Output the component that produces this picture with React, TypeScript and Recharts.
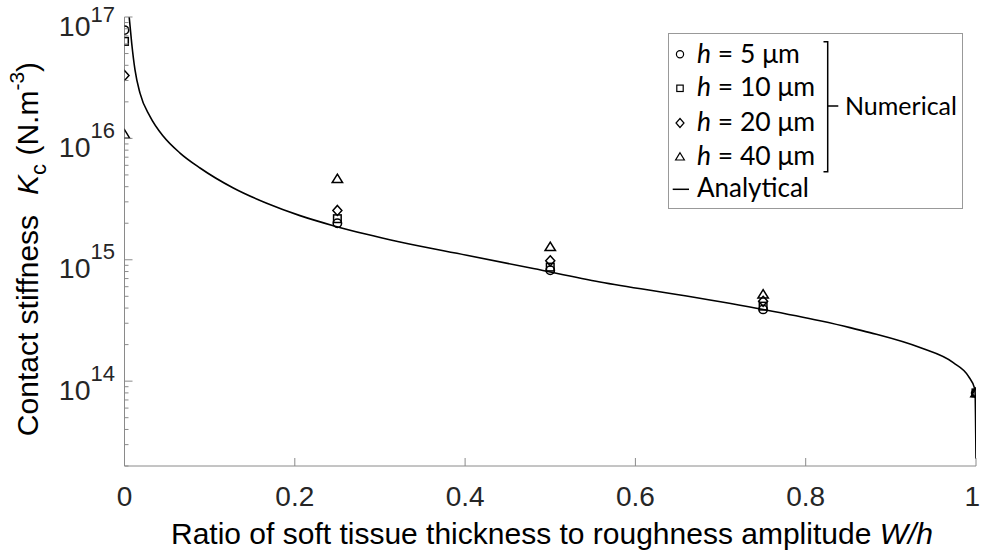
import React from 'react';
import { ComposedChart, Line, Scatter, XAxis, YAxis } from 'recharts';

// ---- data ----
const xTicks = [0, 0.2, 0.4, 0.6, 0.8, 1];
const xTickLabels = ['0', '0.2', '0.4', '0.6', '0.8', '1'];
const yDomain = [2e13, 1e17];

const curveX = [0.0055, 0.00846, 0.01233, 0.0182, 0.0299, 0.0456, 0.0652, 0.0887, 0.1278, 0.167, 0.2061, 0.2452, 0.2844, 0.3235, 0.4019, 0.4801, 0.5584, 0.6563, 0.7502, 0.8168, 0.852, 0.8755, 0.9342, 0.9733, 0.991, 0.9988, 1.0];
const curveK = [1.0e17, 6.08e16, 3.66e16, 2.36e16, 1.52e16, 1.04e16, 7.57e15, 5.7e15, 3.9e15, 2.92e15, 2.31e15, 1.91e15, 1.62e15, 1.4e15, 1.09e15, 8.47e14, 6.57e14, 5.08e14, 3.89e14, 3.14e14, 2.76e14, 2.51e14, 1.89e14, 1.42e14, 1.1e14, 8.55e13, 2.3e13];

const ratioX = [0, 0.25, 0.5, 0.75, 1];
const kH5 = [7.8e16, 2.0e15, 8.2e14, 3.9e14, 8.0e13];
const kH10 = [6.3e16, 2.18e15, 8.7e14, 4.15e14, 8.0e13];
const kH20 = [3.3e16, 2.55e15, 9.8e14, 4.55e14, 8.0e13];
const kH40 = [1.08e16, 4.65e15, 1.28e15, 5.2e14, 8.0e13];

const curveData = curveX.map((x, i) => ({ x, k: curveK[i] }));
const mk = (arr: number[]) => ratioX.map((x, i) => ({ x, k: arr[i] }));
const d5 = mk(kH5);
const d10 = mk(kH10);
const d20 = mk(kH20);
const d40 = mk(kH40);

// tick positions (majors + minors per decade)
const yTicks: number[] = [];
for (let d = 13; d <= 17; d++) {
  for (let m = 1; m <= 9; m++) {
    const v = m * Math.pow(10, d);
    if (v >= yDomain[0] * 0.999 && v <= yDomain[1] * 1.001) yTicks.push(v);
  }
}

const AXIS = '#8a8a8a';
const TEXT = '#262626';
const FONT = '"Liberation Sans", Arial, Helvetica, sans-serif';
const LFONT = 'Lato, "Noto Sans", sans-serif';

const isMajor = (v: number) => {
  const lg = Math.log10(v);
  return Math.abs(lg - Math.round(lg)) < 1e-6;
};

const YTickLeft = (props: any) => {
  const { x, y, payload } = props;
  const v = payload.value;
  const major = isMajor(v);
  const isTop = Math.abs(v - yDomain[1]) < 1;
  return (
    <g>
      <line x1={x} x2={x + (major ? 8 : 4)} y1={y} y2={y} stroke={AXIS} strokeWidth={1} />
      {major && (
        <text x={x - 9.5} y={y + 18.5} textAnchor="end" fontSize={28.5} fill={TEXT} fontFamily={FONT}>
          10<tspan fontSize={22} dy={isTop ? -13.5 : -19}>{Math.round(Math.log10(v))}</tspan>
        </text>
      )}
    </g>
  );
};

const YTickRight = (props: any) => {
  const { x, y, payload } = props;
  const major = isMajor(payload.value);
  return <line x1={x} x2={x - (major ? 8 : 4)} y1={y} y2={y} stroke={AXIS} strokeWidth={1} />;
};

const XTickBottom = (props: any) => {
  const { x, y, payload } = props;
  const i = xTicks.indexOf(payload.value);
  const last = i === xTicks.length - 1;
  return (
    <g>
      <line x1={x} x2={x} y1={y} y2={y - 8} stroke={AXIS} strokeWidth={1} />
      <text x={last ? x + 4 : x} y={y + 40} textAnchor={last ? 'end' : 'middle'} fontSize={28} fill={TEXT} fontFamily={FONT}>
        {i >= 0 ? xTickLabels[i] : String(payload.value)}
      </text>
    </g>
  );
};

const XTickTop = (props: any) => {
  const { x, y } = props;
  return <line x1={x} x2={x} y1={y} y2={y + 8} stroke={AXIS} strokeWidth={1} />;
};

const SW = 1.5;
const CircleShape = (p: any) => <circle cx={p.cx} cy={p.cy} r={4.2} fill="none" stroke="#000" strokeWidth={SW} />;
const SquareShape = (p: any) => <rect x={p.cx - 3.8} y={p.cy - 3.8} width={7.6} height={7.6} fill="none" stroke="#000" strokeWidth={SW} />;
const DiamondShape = (p: any) => (
  <path d={`M${p.cx},${p.cy - 5} L${p.cx + 4.5},${p.cy} L${p.cx},${p.cy + 5} L${p.cx - 4.5},${p.cy} Z`} fill="none" stroke="#000" strokeWidth={SW} />
);
const TriangleShape = (p: any) => (
  <path d={`M${p.cx},${p.cy - 4.6} L${p.cx + 5.2},${p.cy + 3.8} L${p.cx - 5.2},${p.cy + 3.8} Z`} fill="none" stroke="#000" strokeWidth={SW} />
);

const legendRows = ['5', '10', '20', '40'];
const legendBaselines = [62.7, 96.2, 130.5, 164.7];
const markerYs = [54.3, 88.3, 123.0, 156.7];

const Legend = () => (
  <svg width={981} height={559} style={{ position: 'absolute', left: 0, top: 0, pointerEvents: 'none' }}>
    <rect x={668.5} y={33.5} width={294} height={175} fill="#fff" stroke="#999" strokeWidth={1} />
    <circle cx={680} cy={markerYs[0]} r={3.6} fill="none" stroke="#000" strokeWidth={1.2} />
    <rect x={676.8} y={markerYs[1] - 3.2} width={6.4} height={6.4} fill="none" stroke="#000" strokeWidth={1.2} />
    <path d={`M680,${markerYs[2] - 4.5} L684,${markerYs[2]} L680,${markerYs[2] + 4.5} L676,${markerYs[2]} Z`} fill="none" stroke="#000" strokeWidth={1.2} />
    <path d={`M680,${markerYs[3] - 4} L684.4,${markerYs[3] + 3.3} L675.6,${markerYs[3] + 3.3} Z`} fill="none" stroke="#000" strokeWidth={1.2} />
    {legendRows.map((h, i) => (
      <text key={h} x={697} y={legendBaselines[i]} fontSize={26.5} fill="#000" fontFamily={LFONT}>
        <tspan fontStyle="italic">h</tspan> = {h} μm
      </text>
    ))}
    <line x1={672.7} x2={689} y1={189.3} y2={189.3} stroke="#000" strokeWidth={1.5} />
    <text x={697} y={197} fontSize={26} fill="#000" fontFamily={LFONT}>Analytical</text>
    <path d="M823.5,41.7 H827.7 V171.7 H823.5 M827.7,106 H838.3" fill="none" stroke="#000" strokeWidth={1.5} />
    <text x={845} y={115} fontSize={25} fill="#000" fontFamily={LFONT}>Numerical</text>
  </svg>
);

export default function App() {
  return (
    <div style={{ position: 'absolute', left: 0, top: 0, width: 981, height: 559, background: '#fff' }}>
      <ComposedChart width={981} height={559} margin={{ top: 17, right: 5, bottom: 0, left: 0 }}>
        <XAxis
          xAxisId="b"
          type="number"
          dataKey="x"
          domain={[0, 1]}
          ticks={xTicks}
          interval={0}
          height={93}
          tickSize={0}
          tickMargin={0}
          tickLine={false}
          axisLine={{ stroke: AXIS }}
          tick={<XTickBottom />}
          allowDataOverflow
        />
        <XAxis
          xAxisId="t"
          orientation="top"
          type="number"
          dataKey="x"
          domain={[0, 1]}
          ticks={xTicks}
          interval={0}
          height={0}
          tickSize={0}
          tickMargin={0}
          tickLine={false}
          axisLine={{ stroke: AXIS }}
          tick={<XTickTop />}
          allowDataOverflow
        />
        <YAxis
          yAxisId="l"
          type="number"
          dataKey="k"
          scale="log"
          domain={yDomain}
          ticks={yTicks}
          interval={0}
          width={124.5}
          tickSize={0}
          tickMargin={0}
          tickLine={false}
          axisLine={{ stroke: AXIS }}
          tick={<YTickLeft />}
          allowDataOverflow
        />
        <YAxis
          yAxisId="r"
          orientation="right"
          type="number"
          dataKey="k"
          scale="log"
          domain={yDomain}
          ticks={yTicks}
          interval={0}
          width={0}
          tickSize={0}
          tickMargin={0}
          tickLine={false}
          axisLine={{ stroke: AXIS }}
          tick={<YTickRight />}
          allowDataOverflow
        />
        <Line
          data={curveData}
          xAxisId="b"
          yAxisId="l"
          dataKey="k"
          type="monotone"
          stroke="#000"
          strokeWidth={1.6}
          dot={false}
          isAnimationActive={false}
        />
        <Scatter data={d5} xAxisId="b" yAxisId="l" dataKey="k" shape={CircleShape} isAnimationActive={false} />
        <Scatter data={d10} xAxisId="b" yAxisId="l" dataKey="k" shape={SquareShape} isAnimationActive={false} />
        <Scatter data={d20} xAxisId="b" yAxisId="l" dataKey="k" shape={DiamondShape} isAnimationActive={false} />
        <Scatter data={d40} xAxisId="b" yAxisId="l" dataKey="k" shape={TriangleShape} isAnimationActive={false} />
      </ComposedChart>
      <svg width={981} height={559} style={{ position: 'absolute', left: 0, top: 0, pointerEvents: 'none' }}>
        <text
          x={38}
          y={249}
          transform="rotate(-90, 38, 249)"
          textAnchor="middle"
          fontSize={30}
          fill="#000"
          fontFamily={FONT}
        >
          Contact stiffness
          <tspan dx={20} fontStyle="italic">K</tspan>
          <tspan fontSize={22} dy={8}>c</tspan>
          <tspan dy={-8}> (N.m</tspan>
          <tspan fontSize={21} dy={-14}>-3</tspan>
          <tspan dy={14}>)</tspan>
        </text>
        <text x={552} y={544} textAnchor="middle" fontSize={30} fill="#000" fontFamily={FONT}>
          Ratio of soft tissue thickness to roughness amplitude <tspan fontStyle="italic">W/h</tspan>
        </text>
      </svg>
      <Legend />
    </div>
  );
}
